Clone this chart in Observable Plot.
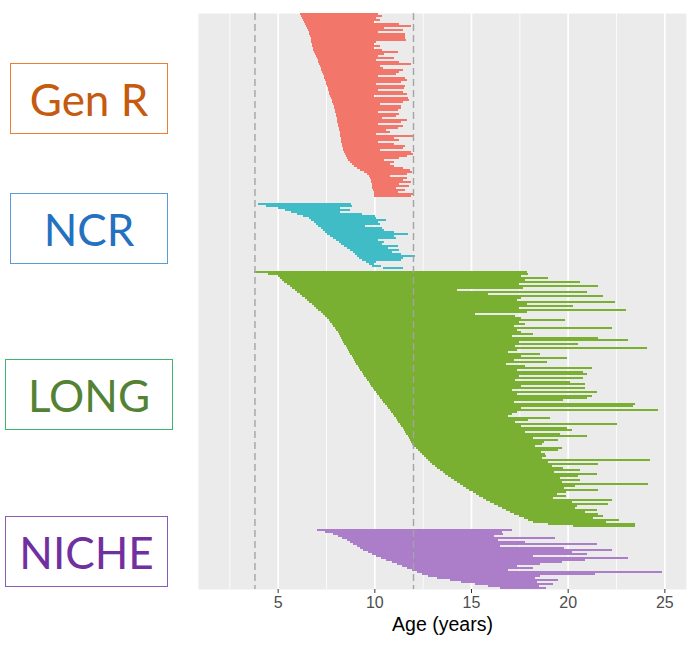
<!DOCTYPE html>
<html><head><meta charset="utf-8">
<script src="https://cdn.jsdelivr.net/npm/d3@7"></script>
<script src="https://cdn.jsdelivr.net/npm/@observablehq/plot@0.6"></script>
<style>
body{margin:0;background:#fff;}
#wrap{position:relative;width:694px;height:648px;}
#chart{position:absolute;left:0;top:0;}
.lab{position:absolute;box-sizing:border-box;border:1.3px solid;display:flex;align-items:center;justify-content:center;font-family:Lato,"Open Sans",sans-serif;font-size:44px;line-height:1;}
</style></head><body>
<div id="wrap"><div id="chart"></div></div>
<script>
// ---- data ----
const cohorts = ["Gen R", "NCR", "LONG", "NICHE"];
const barColors = ["#F2766A", "#40BCC6", "#79B032", "#AC7DC8"];
const labelText = ["#C55A11", "#2471C0", "#548235", "#7030A0"];
const labelBorder = ["#ED7D31", "#5B9BD5", "#3DB56F", "#8A5BB4"];

const genRStart = [6.15,6.2,6.25,6.3,6.35,6.4,6.45,6.5,6.55,6.6,
6.62,6.65,6.7,6.72,6.75,6.78,6.8,6.83,6.85,6.9,
6.95,7.0,7.03,7.07,7.1,7.15,7.2,7.22,7.25,7.3,
7.35,7.4,7.42,7.45,7.5,7.52,7.55,7.6,7.62,7.65,
7.68,7.72,7.75,7.8,7.83,7.86,7.9,7.92,7.95,7.97,
8.0,8.03,8.05,8.07,8.09,8.11,8.13,8.15,8.17,8.2,
8.22,8.24,8.26,8.28,8.3,8.32,8.35,8.37,8.4,8.45,
8.5,8.55,8.6,8.65,8.75,8.85,8.95,9.1,9.25,9.45,
9.6,9.75,9.8,9.82,9.84,9.86,9.88,9.9,9.93,9.96,
9.98,10.0];
const genREnd = [10.2,10.4,10.1,10.3,10.0,11.3,11.9,10.5,11.5,10.2,
11.6,11.6,11.6,11.65,10.1,10.0,10.3,10.0,10.4,11.2,
10.5,10.2,11.0,10.1,11.3,11.9,10.3,10.45,11.5,11.3,
11.1,10.2,11.6,11.7,11.4,10.1,11.6,11.55,10.2,11.5,
11.7,10.0,11.75,11.8,11.5,10.3,11.4,11.4,11.2,10.2,
11.3,11.1,10.4,11.7,11.4,10.2,11.5,11.2,10.6,10.8,
10.1,12.0,11.0,11.3,10.2,11.0,11.6,11.5,10.3,11.9,
12.0,11.7,11.3,10.5,11.0,10.8,11.0,11.5,11.85,11.95,
11.7,10.8,11.7,11.5,11.9,11.3,11.8,11.1,11.6,11.2,
12.0,11.9];

const ncrStart = [4.0,4.4,5.0,5.4,5.7,6.0,6.3,6.6,6.75,6.9,
7.0,7.1,7.25,7.35,7.45,7.55,7.7,7.85,8.0,8.15,
8.3,8.45,8.6,8.75,8.9,9.0,9.1,9.2,9.35,9.55,
9.7,9.9,10.45];
const ncrEnd = [8.8,8.85,8.2,8.75,8.2,9.35,10.05,10.1,10.6,10.2,
10.3,9.5,10.4,10.5,11.0,11.75,11.0,11.1,10.2,10.5,
10.4,11.2,10.7,11.3,10.9,11.4,12.1,11.5,11.4,10.1,
10.0,10.35,11.5];

const longStart = [3.8,4.5,5.0,5.1,5.22,5.35,5.48,5.62,5.75,5.88,
6.01,6.14,6.27,6.4,6.52,6.64,6.76,6.88,7.0,7.11,
7.22,7.33,7.44,7.55,7.63,7.71,7.79,7.86,7.94,8.02,
8.1,8.16,8.22,8.28,8.34,8.39,8.45,8.51,8.57,8.63,
8.7,8.76,8.82,8.88,8.94,9.01,9.07,9.14,9.21,9.28,
9.35,9.42,9.49,9.56,9.63,9.7,9.78,9.85,9.92,10.0,
10.07,10.15,10.22,10.3,10.38,10.46,10.55,10.63,10.71,10.79,
10.88,10.96,11.04,11.11,11.18,11.25,11.32,11.39,11.46,11.53,
11.6,11.66,11.72,11.78,11.85,11.91,11.97,12.05,12.16,12.26,
12.37,12.47,12.58,12.68,12.79,12.89,13.0,13.12,13.26,13.4,
13.54,13.68,13.83,13.97,14.11,14.25,14.42,14.59,14.76,14.92,
15.09,15.26,15.43,15.6,15.8,16.0,16.2,16.4,16.6,16.8,
17.0,17.24,17.48,17.72,17.96,18.2,19.0,20.3];
const longEnd = [17.9,17.97,17.6,19.0,17.8,20.64,17.5,21.59,17.7,14.3,
20.99,15.9,21.81,17.6,17.4,22.45,17.9,20.3,17.5,23.02,
17.88,15.2,17.3,17.6,19.87,17.5,17.8,17.2,22.28,17.37,
17.6,18.23,17.1,21.59,23.14,17.5,20.55,17.3,24.09,17.37,
16.9,18.57,17.6,19.95,17.2,18.92,16.8,17.8,21.24,17.4,
20.81,20.99,17.5,20.81,17.3,20.12,20.9,17.6,20.9,17.1,
21.5,17.4,21.24,21.0,19.78,17.2,23.49,23.4,17.6,24.69,
17.37,17.1,16.9,19.09,17.97,17.3,22.54,17.6,19.95,20.21,
17.8,19.6,20.99,18.2,19.52,18.75,18.66,18.3,19.69,19.52,
18.6,18.83,18.9,18.66,24.26,19.0,21.59,19.2,19.78,20.64,
19.3,21.5,20.55,19.6,20.64,19.7,24.18,20.38,19.8,21.59,
19.9,19.43,19.9,19.26,22.28,20.2,22.1,20.5,20.38,21.5,
20.9,21.59,21.85,21.3,22.63,22.0,23.49,23.5];

const nicheStart = [7.02,7.45,7.88,8.1,8.35,8.57,8.75,8.91,9.1,9.25,
9.4,9.65,9.87,10.1,10.35,10.6,10.9,11.15,11.45,11.7,
11.95,12.2,12.45,12.8,13.25,13.9,14.5,15.2,15.9,16.5];
const nicheEnd = [17.1,16.6,16.67,16.2,19.35,16.4,17.8,21.5,16.5,19.8,
22.28,20.2,20.98,18.2,23.14,20.9,19.7,18.57,17.4,18.2,
16.9,24.87,21.4,18.57,18.3,19.5,18.4,19.26,18.5,18.9];

const majorTicks = [5, 10, 15, 20, 25];
const minorTicks = [2.5, 7.5, 12.5, 17.5, 22.5];
const refAges = [3.8, 12];
const xTitle = "Age (years)";

// ---- build table ----
const starts = [genRStart, ncrStart, longStart, nicheStart];
const ends = [genREnd, ncrEnd, longEnd, nicheEnd];
const gaps = [0, 3, 1, 1];
const rows = [];
let offset = 0;
cohorts.forEach((c, k) => {
  offset += gaps[k];
  starts[k].forEach((s, i) => rows.push({cohort: c, row: offset + i, start: s, end: ends[k][i]}));
  offset += starts[k].length;
});
const total = offset;

const chart = Plot.plot({
  width: 694, height: 648,
  marginLeft: 198, marginRight: 8, marginTop: 13, marginBottom: 59,
  style: {fontFamily: "'Liberation Sans', Arial, sans-serif", background: "transparent"},
  x: {domain: [0.88, 26.12], label: null},
  y: {domain: [0, total], reverse: true, axis: null},
  color: {domain: cohorts, range: barColors},
  marks: [
    Plot.frame({fill: "#EBEBEB", stroke: null}),
    Plot.ruleX(minorTicks, {stroke: "white", strokeWidth: 0.8}),
    Plot.ruleX(majorTicks, {stroke: "white", strokeWidth: 1.7}),
    Plot.rect(rows, {x1: "start", x2: "end", y1: "row", y2: d => d.row + 1, fill: "cohort", shapeRendering: "crispEdges"}),
    Plot.ruleX(refAges, {stroke: "#a4a4a4", strokeWidth: 1.4, strokeDasharray: "7,4"}),
    Plot.axisX({ticks: majorTicks, tickSize: 4, tickPadding: 3, fontSize: 16, stroke: "#333", fill: "#4d4d4d", label: null}),
    Plot.text([xTitle], {frameAnchor: "bottom", dy: 41, fontSize: 19.5, fill: "#000"})
  ]
});
document.getElementById("chart").appendChild(chart);

// ---- cohort labels (left) ----
const boxes = [
  {left: 10, top: 63, width: 158, height: 71},
  {left: 10, top: 193, width: 158, height: 71},
  {left: 5, top: 359, width: 168, height: 71},
  {left: 5, top: 516, width: 163, height: 71}
];
const wrap = document.getElementById("wrap");
cohorts.forEach((c, k) => {
  const d = document.createElement("div");
  d.className = "lab";
  d.textContent = c;
  Object.assign(d.style, {
    left: boxes[k].left + "px", top: boxes[k].top + "px",
    width: boxes[k].width + "px", height: boxes[k].height + "px",
    borderColor: labelBorder[k], color: labelText[k]
  });
  wrap.appendChild(d);
});
</script>
</body></html>
